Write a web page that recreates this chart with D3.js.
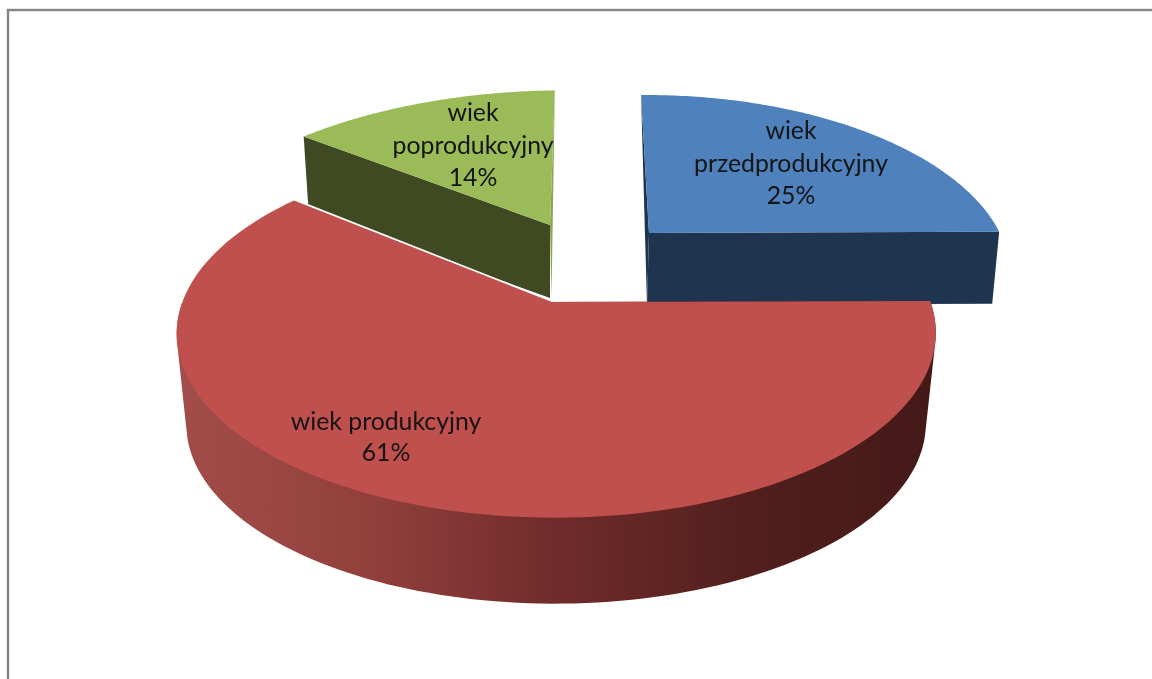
<!DOCTYPE html>
<html>
<head>
<meta charset="utf-8">
<script src="https://cdn.jsdelivr.net/npm/d3@7"></script>
<style>
    html, body { margin: 0; padding: 0; background: #fff; overflow: hidden; }
    svg { display: block; }
    text { font-family: Lato, "Open Sans", sans-serif; fill: #141414; }
</style>
</head>
<body>
<svg id="chart" width="1152" height="679"></svg>
<script>
// chart data
const categories = ["wiek przedprodukcyjny", "wiek produkcyjny", "wiek poprodukcyjny"];
const values = [25, 61, 14];
const labelLines = [["wiek", "przedprodukcyjny", "25%"], ["wiek produkcyjny", "61%"], ["wiek", "poprodukcyjny", "14%"]];
const topColors = ["#4f81bd", "#c0504d", "#9bbb59"];
const wallColors = ["#1f344f", "#6e2b29", "#3f4a23"];

var root = d3.select("#chart");
const width = +root.attr("width");
const height = +root.attr("height");
const fontSize = 24.8;

// each slice is exploded, so it has its own apex and perspective
const views = [
    { ox: 649, oy: 233, kx: 346, ky: 168, p: 0.218, r: 0.012, lean: -0.028, roll: 0.008, f: 0.98, h: 72 },
    { ox: 552, oy: 302, kx: 374, ky: 179, p: 0.17, r: 0.011, lean: 0, roll: 0.005, f: 0.974, h: 91.6 },
    { ox: 550, oy: 225, kx: 369, ky: 164, p: 0.218, r: 0, lean: 0.016, roll: 0.03, f: 0.98, h: 73 }
];
const labelAnchors = [[791, 139], [386, 430], [473, 121]];
const labelSteps = [32.5, 31, 32.5];

const topPoint = (view, angle, radius) => {
    let u = Math.sin(angle) * radius;
    let v = Math.cos(angle) * radius;
    let d = 1 + view.p * v - view.r * u;
    return [view.ox + view.kx * (u + view.lean * v) / d,
            view.oy - view.ky * (v + view.roll * u) / d];
};

// bottom face is a slightly smaller copy pushed down
const bottomPoint = (view, point) => {
    return [view.ox + (point[0] - view.ox) * view.f,
            view.oy + (point[1] - view.oy) * view.f + view.h];
};

const line = d3.line();

const arcPoints = (view, slice) => {
    let steps = 120;
    return d3.range(steps + 1).map(i => {
        let a = slice.startAngle + (slice.endAngle - slice.startAngle) * i / steps;
        return topPoint(view, a, 1);
    });
};

var slices = d3.pie().sort(null).value(d => d)(values);

// the source picture is a scaled screenshot, so everything is a bit soft
var defs = root.append("defs");
defs.append("filter")
    .attr("id", "soft")
    .attr("x", 0).attr("y", 0).attr("width", 1).attr("height", 1)
    .attr("color-interpolation-filters", "sRGB")
    .append("feGaussianBlur")
    .attr("stdDeviation", 0.55);

var svg = root.append("g").attr("filter", "url(#soft)");

svg.append("rect")
    .attr("width", width)
    .attr("height", height)
    .style("fill", "#fff");

// outer frame of the chart area, runs off the right and bottom of the page
svg.append("rect")
    .attr("x", 8)
    .attr("y", 10)
    .attr("width", width + 20)
    .attr("height", height + 20)
    .style("fill", "#fff")
    .style("stroke", "#858585")
    .style("stroke-width", 2.4);

// gradient for the round wall of the big slice
var gradient = defs.append("linearGradient")
    .attr("id", "redWall")
    .attr("gradientUnits", "userSpaceOnUse")
    .attr("x1", 176).attr("x2", 936).attr("y1", 0).attr("y2", 0);
[[0, "#a34d4a"], [0.25, "#93403d"], [0.5, "#6f2c2a"], [0.75, "#521f1d"], [1, "#431917"]].forEach(s => {
    gradient.append("stop").attr("offset", s[0]).attr("stop-color", s[1]);
});

const drawBlue = () => {
    let view = views[0], slice = slices[0];
    let arc = arcPoints(view, slice);
    let apex = [view.ox, view.oy];
    let apexLow = [view.ox - 2, view.oy + view.h];
    let corner = arc[arc.length - 1];
    // side facing us, under the right edge
    svg.append("path")
        .attr("d", line([apex, corner, bottomPoint(view, corner), apexLow]) + "Z")
        .style("fill", wallColors[0]);
    // thin strip on the left
    svg.append("path")
        .attr("d", line([arc[0], apex, apexLow]) + "Z")
        .style("fill", wallColors[0]);
    svg.append("path")
        .attr("d", line([apex].concat(arc)) + "Z")
        .style("fill", topColors[0]);
};

const drawGreen = () => {
    let view = views[2], slice = slices[2];
    let arc = arcPoints(view, slice);
    let apex = [view.ox, view.oy];
    let apexLow = [view.ox, view.oy + view.h];
    let corner = arc[0];
    svg.append("path")
        .attr("d", line([arc[arc.length - 1], apex, [view.ox + 1.5, view.oy + view.h]]) + "Z")
        .style("fill", "#8ba653");
    svg.append("path")
        .attr("d", line([corner, apex, apexLow, bottomPoint(view, corner)]) + "Z")
        .style("fill", wallColors[2]);
    svg.append("path")
        .attr("d", line([apex].concat(arc)) + "Z")
        .style("fill", topColors[2]);
};

const drawRed = () => {
    let view = views[1], slice = slices[1];
    let arc = arcPoints(view, slice);
    let apex = [view.ox, view.oy];
    // wall is the hull of the front half of the rim and its copy underneath
    let front = d3.range(121)
        .map(i => slice.startAngle + Math.PI * i / 120)
        .map(a => topPoint(view, a, 1));
    let hull = d3.polygonHull(front.concat(front.map(pt => bottomPoint(view, pt))));
    svg.append("path")
        .attr("d", line(hull) + "Z")
        .style("fill", "url(#redWall)");
    // light seam where the slice passes in front of the green one
    svg.append("path")
        .attr("d", line([arc[arc.length - 1], apex]))
        .style("fill", "none")
        .style("stroke", "#fff")
        .style("stroke-width", 3.4);
    svg.append("path")
        .attr("d", line([apex].concat(arc)) + "Z")
        .style("fill", topColors[1]);
};

// back slices first, the red one sits in front of both
drawBlue();
drawGreen();
drawRed();

labelLines.forEach((lines, i) => {
    svg.append("text")
        .attr("text-anchor", "middle")
        .style("font-size", fontSize + "px")
        .selectAll("tspan")
        .data(lines)
        .enter()
        .append("tspan")
        .attr("x", labelAnchors[i][0])
        .attr("y", (d, j) => labelAnchors[i][1] + j * labelSteps[i])
        .text(d => d);
});
</script>
</body>
</html>
